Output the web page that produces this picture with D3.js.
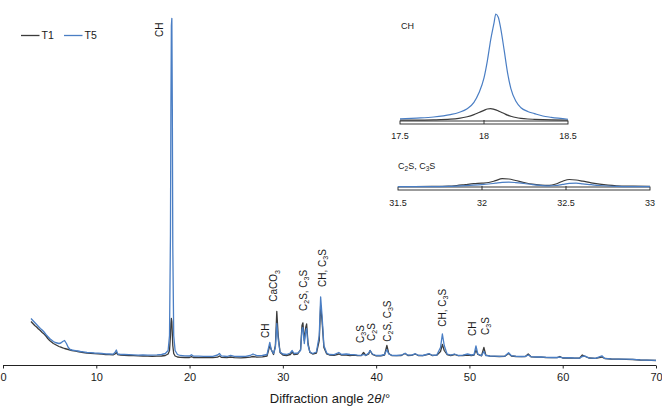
<!DOCTYPE html>
<html><head><meta charset="utf-8">
<script src="https://cdn.jsdelivr.net/npm/d3@7"></script>
<style>
body{margin:0;background:#fff}
svg{display:block}
text{font-family:"Liberation Sans",Arial,Helvetica,sans-serif;fill:#1a1a1a}
</style>
</head><body>
<svg id="chart" width="662" height="407"></svg>
<script>
// ---------- DATA ----------
const seriesNames = ["T1", "T5"];
const angles = [3.0,3.2,3.4,3.6,3.8,4.0,4.2,4.4,4.6,4.8,5.0,5.2,5.4,5.6,5.8,6.0,6.2,6.4,6.6,6.8,7.0,7.2,7.4,7.6,7.8,8.0,8.3,8.6,9.0,9.4,9.8,10.2,10.6,11.0,11.4,11.8,12.0,12.15,12.3,12.6,13.0,13.5,14.0,14.5,15.0,15.5,16.0,16.5,17.0,17.4,17.7,17.85,17.95,18.0,18.05,18.1,18.15,18.2,18.3,18.45,18.7,19.0,19.5,20.0,20.2,20.4,21.0,21.5,22.0,22.5,23.0,23.2,23.4,24.0,24.4,24.8,25.5,26.0,26.5,26.8,27.2,27.8,28.3,28.6,28.75,29.0,29.2,29.35,29.5,29.7,30.0,30.4,30.8,31.0,31.2,31.6,31.9,32.05,32.15,32.3,32.45,32.55,32.7,32.9,33.2,33.6,33.9,34.05,34.2,34.4,34.7,35.0,35.5,36.0,36.3,36.8,37.2,37.6,38.0,38.4,38.65,38.9,39.2,39.35,39.6,40.0,40.5,40.9,41.15,41.35,41.7,42.2,42.7,43.1,43.4,43.8,44.2,44.5,45.0,45.7,46.0,46.5,46.9,47.1,47.3,47.6,48.0,48.4,48.8,49.3,49.8,50.2,50.5,50.7,50.9,51.3,51.55,51.75,52.2,52.7,53.2,53.8,54.2,54.5,55.0,55.6,56.0,56.3,56.6,57.2,57.7,58.2,58.8,59.4,59.7,60.0,60.6,61.2,61.8,62.1,62.4,62.8,63.5,64.2,64.5,65.2,66.0,66.8,67.5,68.3,69.0,70.0];
const t1 = [44,42,40,38.5,36.5,35,33,31.5,29.5,27,25,23.5,22,21,20,19,18.3,17.6,17,16.5,16,15.5,15,14.6,14.3,14,13.5,13,12.5,12.2,11.8,11.6,11.3,11,10.8,10.6,11.5,13,10.8,10.4,10.2,10,9.8,9.6,9.5,9.3,9.2,9.3,9.5,10,11.5,15,30,42,47,44,32,20,12,9.5,8.5,8.2,8.0,8.0,8.8,8.0,7.9,7.8,7.8,7.9,8.3,9.5,8.2,7.8,8.5,7.8,7.7,8,8.4,9,8.3,8.6,9.5,20,16,11,20,54,30,13,10.5,10,11,13.5,11,11.5,16,40,42.7,25,38,41.5,22,13,11.5,12.5,25,60,45,18,11.5,10.5,10.2,11.5,10.3,10.5,10,10.3,9.8,9.8,13,10,11.5,15,11,9.6,9.6,10.5,20,12,9.8,9.8,10,12,10,10.2,11.5,10,9.8,11.5,10,10.3,14,21,15,11,10,11,9.8,9.8,10.5,10,10.5,15.5,11,9.7,18,10.5,9.3,9.2,9.0,9.2,12,9.5,9.0,8.8,9,11.5,8.7,8.3,8.3,8,7.8,7.8,9,7.5,7.6,7.4,7.3,10.5,9,7.5,7.1,8.5,7,6.5,6.3,6.2,6,5.5,5.3,5];
const t5 = [47,45,43,41,39,37,35.5,33.5,31,29,27,25.5,24,23,22.5,22,22.5,24,25,22,18,16,15.5,15.2,14.8,14.5,14,13.6,13,12.8,12.5,12.3,12,11.6,11.5,11.3,13,15.5,11.5,11.2,11,10.8,10.6,10.4,10.5,10.3,10.4,10.6,11,12,15,30,130,260,340,347,260,120,30,15,11,10,9.6,9.5,10.8,9.4,9.3,9.2,9.1,9.2,10.5,12,9.6,9.0,10.2,9.1,9,9.2,10,11.5,9.8,10,11,23,16,12,18,42,26,13.5,11.5,11,12.5,15,12,12.5,15,36,38,22,34,37,20,13.5,12,13.5,30,68.5,50,20,12.5,11,10.8,13,11,11.5,11,10.8,10.4,10.2,11,10.2,12.5,15,11.5,10,10,11,16,11.5,10.2,10,10.3,12.3,10.3,10.4,11.8,10.2,10,11.8,10.2,10.5,18,31.5,20,11.5,10.3,11.5,10,10.3,11.5,10.5,11,19.5,11.5,9.8,14,10,9.5,9.4,9.2,9.4,12.7,9.8,9.2,9,9.2,10.5,8.9,8.5,8.5,8.2,8,8,8.3,7.7,7.8,7.5,7.4,9,9.5,7.6,7.2,9.7,7.1,6.6,6.4,6.3,6.1,5.6,5.4,5.1];
const xTicks = [0,10,20,30,40,50,60,70];

const labelTexts  = ["CH","CH","CaCO_3","C_2S, C_3S","CH, C_3S","C_3S","C_2S","C_2S, C_3S","CH, C_3S","CH","C_3S"];
const labelAngles = [16.78,28.14,29.02,32.16,34.24,38.28,39.44,41.22,47.12,50.28,51.71];
const labelLevels = [328.5,27.5,63.8,54.5,78.5,22.5,24.5,23.8,38.8,29.5,30.5];

// inset 1 : CH peak
const inset1Label = "CH";
const inset1Angles = [17.5,17.6,17.7,17.8,17.85,17.9,17.94,17.97,18.0,18.02,18.04,18.06,18.07,18.085,18.1,18.12,18.14,18.16,18.19,18.22,18.26,18.3,18.35,18.4,18.5];
const inset1T1 = [0.3,0.4,0.6,1.2,2,3.5,5.5,7.5,9.5,10.8,11.2,10.5,10,9,8,6.5,5,4,2.8,2,1.4,1.1,0.8,0.6,0.4];
const inset1T5 = [1.6,2.3,3.3,5.5,7.5,11,17,26,40,56,76,92,100,97,86,66,45,30,18,12,8.5,6.5,4.2,3,1.2];
const inset1Ticks = [17.5,18,18.5];

// inset 2 : C2S, C3S peaks
const inset2Label = "C_2S, C_3S";
const inset2Angles = [31.5,31.6,31.7,31.8,31.85,31.9,31.95,32.0,32.04,32.08,32.12,32.16,32.2,32.25,32.3,32.35,32.4,32.44,32.48,32.52,32.56,32.6,32.65,32.7,32.75,32.8,32.9,33.0];
const inset2T1 = [0.5,0.5,0.6,0.9,1.5,2.4,3.3,3.8,4.5,6.3,8.3,8,6.5,4.5,2.8,1.9,1.6,3,5.8,7.5,7,5.8,4.2,2.8,1.8,1.2,0.8,0.6];
const inset2T5 = [0.3,0.3,0.4,0.6,0.9,1.3,1.8,2.4,3,3.8,4.6,4.8,4.4,3.5,2.4,1.6,1.1,1.5,2.6,3.6,3.8,3.2,2.3,1.5,1,0.7,0.4,0.3];
const inset2Ticks = [31.5,32,32.5,33];

// ---------- STYLE ----------
const colors = {T1:"#3b3b3b", T5:"#4a7ec4"};
const svg = d3.select("#chart");

function richText(sel, str, subSize){
  const parts = str.split(/_(\d)/);
  let shift = 0;
  parts.forEach((p,i)=>{
    if(!p) return;
    if(i%2===1){
      sel.append("tspan").attr("font-size",subSize).attr("dy",2.2).text(p);
      shift = -2.2;
    } else {
      const ts = sel.append("tspan").text(p);
      if(shift){ ts.attr("dy",shift); shift = 0; }
    }
  });
}

// ---------- MAIN CHART ----------
const x = d3.scaleLinear().domain([0,70]).range([3,656]);
const y = d3.scaleLinear().domain([0,350]).range([365.5,15.5]);

const line = (xs, ys, sx, sy) => d3.line().x((d,i)=>sx(xs[i])).y(d=>sy(d))(ys);

svg.append("path").attr("d", line(angles,t1,x,y)).attr("fill","none")
  .attr("stroke",colors.T1).attr("stroke-width",1.3).attr("stroke-linejoin","round");
svg.append("path").attr("d", line(angles,t5,x,y)).attr("fill","none")
  .attr("stroke",colors.T5).attr("stroke-width",1.3).attr("stroke-linejoin","round");

const xAxis = svg.append("g").attr("transform","translate(0,365.5)")
  .call(d3.axisBottom(x).tickValues(xTicks).tickSize(3).tickPadding(5).tickFormat(d3.format("d")));
xAxis.select(".domain").attr("stroke","#222").attr("d","M3,0H656");
xAxis.selectAll(".tick line").attr("stroke","#222");
xAxis.selectAll(".tick text").attr("font-size",11).attr("fill","#1a1a1a")
  .attr("font-family","Liberation Sans, Arial, sans-serif");

const xt = svg.append("text").attr("x",330).attr("y",402.5).attr("text-anchor","middle").attr("font-size",13);
xt.append("tspan").text("Diffraction angle 2");
xt.append("tspan").attr("font-style","italic").text("θ");
xt.append("tspan").text("/°");

// peak labels (rotated)
labelTexts.forEach((t,i)=>{
  const tx = x(labelAngles[i]) + 3.6, ty = y(labelLevels[i]);
  const el = svg.append("text").attr("transform",`translate(${tx},${ty}) rotate(-90)`)
    .attr("font-size",10);
  richText(el, t, 7);
});

// legend
seriesNames.forEach((s,i)=>{
  const g = svg.append("g").attr("transform",`translate(${21+i*43},35.5)`);
  g.append("line").attr("x1",0).attr("x2",18.5).attr("stroke",colors[s]).attr("stroke-width",1.3);
  g.append("text").attr("x",20.5).attr("y",3.6).attr("font-size",10.5).text(s);
});

// ---------- INSETS ----------
function inset(xs, a, b, ticks, label, xr, yBase, yTop, yMax, barY, labelY, labelPos){
  const sx = d3.scaleLinear().domain([ticks[0], ticks[ticks.length-1]]).range(xr);
  const sy = d3.scaleLinear().domain([0,yMax]).range([yBase,yTop]);
  const g = svg.append("g");
  g.append("rect").attr("x",xr[0]).attr("y",barY).attr("width",xr[1]-xr[0]).attr("height",3)
    .attr("fill","#fff").attr("stroke","#222").attr("stroke-width",0.9);
  ticks.slice(1,-1).forEach(t=>{
    g.append("line").attr("x1",sx(t)).attr("x2",sx(t)).attr("y1",barY-1).attr("y2",barY+3)
      .attr("stroke","#222").attr("stroke-width",0.9);
  });
  ticks.forEach(t=>{
    g.append("text").attr("x",sx(t)).attr("y",labelY).attr("text-anchor","middle")
      .attr("font-size",9).text(t);
  });
  const c = d3.curveMonotoneX;
  g.append("path").attr("d", d3.line().curve(c).x((d,i)=>sx(xs[i])).y(d=>sy(d))(a))
    .attr("fill","none").attr("stroke",colors.T1).attr("stroke-width",1.2);
  g.append("path").attr("d", d3.line().curve(c).x((d,i)=>sx(xs[i])).y(d=>sy(d))(b))
    .attr("fill","none").attr("stroke",colors.T5).attr("stroke-width",1.2);
  const lt = g.append("text").attr("x",labelPos[0]).attr("y",labelPos[1]).attr("font-size",9);
  richText(lt, label, 6.5);
}
inset(inset1Angles, inset1T1, inset1T5, inset1Ticks, inset1Label, [400,568], 120.5, 14, 100, 121, 138.5, [401,29]);
inset(inset2Angles, inset2T1, inset2T5, inset2Ticks, inset2Label, [398,650], 187, 177, 10, 187, 206, [398,168.5]);
</script>
</body></html>
